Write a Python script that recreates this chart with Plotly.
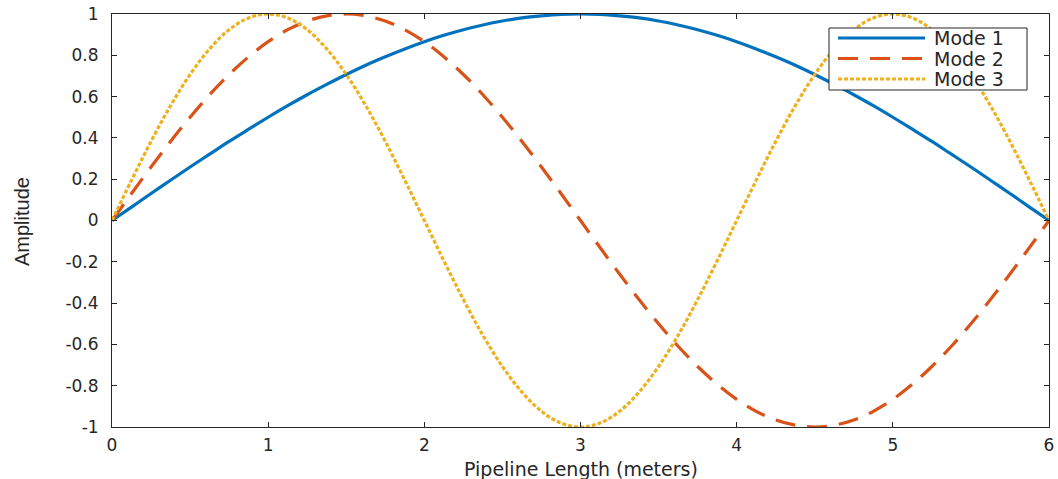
import plotly.graph_objects as go

x_vals = [0, 0.125, 0.25, 0.375, 0.5, 0.625, 0.75, 0.875, 1, 1.125, 1.25, 1.375, 1.5,
          1.625, 1.75, 1.875, 2, 2.125, 2.25, 2.375, 2.5, 2.625, 2.75, 2.875, 3,
          3.125, 3.25, 3.375, 3.5, 3.625, 3.75, 3.875, 4, 4.125, 4.25, 4.375, 4.5,
          4.625, 4.75, 4.875, 5, 5.125, 5.25, 5.375, 5.5, 5.625, 5.75, 5.875, 6]
mode1 = [0, 0.065, 0.131, 0.195, 0.259, 0.321, 0.383, 0.442, 0.500, 0.556, 0.609, 0.659, 0.707,
         0.752, 0.793, 0.831, 0.866, 0.897, 0.924, 0.947, 0.966, 0.981, 0.991, 0.998, 1.000,
         0.998, 0.991, 0.981, 0.966, 0.947, 0.924, 0.897, 0.866, 0.831, 0.793, 0.752, 0.707,
         0.659, 0.609, 0.556, 0.500, 0.442, 0.383, 0.321, 0.259, 0.195, 0.131, 0.065, 0]
mode2 = [0, 0.131, 0.259, 0.383, 0.500, 0.609, 0.707, 0.793, 0.866, 0.924, 0.966, 0.991, 1.000,
         0.991, 0.966, 0.924, 0.866, 0.793, 0.707, 0.609, 0.500, 0.383, 0.259, 0.131, 0,
         -0.131, -0.259, -0.383, -0.500, -0.609, -0.707, -0.793, -0.866, -0.924, -0.966, -0.991, -1.000,
         -0.991, -0.966, -0.924, -0.866, -0.793, -0.707, -0.609, -0.500, -0.383, -0.259, -0.131, 0]
mode3 = [0, 0.195, 0.383, 0.556, 0.707, 0.831, 0.924, 0.981, 1.000,
         0.981, 0.924, 0.831, 0.707, 0.556, 0.383, 0.195, 0,
         -0.195, -0.383, -0.556, -0.707, -0.831, -0.924, -0.981, -1.000,
         -0.981, -0.924, -0.831, -0.707, -0.556, -0.383, -0.195, 0,
         0.195, 0.383, 0.556, 0.707, 0.831, 0.924, 0.981, 1.000,
         0.981, 0.924, 0.831, 0.707, 0.556, 0.383, 0.195, 0]
series_names = ["Mode 1", "Mode 2", "Mode 3"]
x_ticks = [0, 1, 2, 3, 4, 5, 6]
y_ticks = [-1, -0.8, -0.6, -0.4, -0.2, 0, 0.2, 0.4, 0.6, 0.8, 1]
y_tick_labels = ["-1", "-0.8", "-0.6", "-0.4", "-0.2", "0", "0.2", "0.4", "0.6", "0.8", "1"]

colors = ["#0072BD", "#D95319", "#EDB120"]
dashes = ["solid", "20px,12px", "4px,2px"]
TXT = "#262626"
font = "DejaVu Sans, Verdana, sans-serif"

# plot-area geometry (px) used to place the legend/titles in paper coords
W, H = 1058, 479
L, R, T, B = 112, 9, 14, 52
PW, PH = W - L - R, H - T - B


def px(xp):
    return (xp - L) / PW


def py(yp):
    return 1 - (yp - T) / PH


fig = go.Figure()
for name, ys, c, d in zip(series_names, [mode1, mode2, mode3], colors, dashes):
    fig.add_trace(go.Scatter(
        x=x_vals, y=ys, mode="lines", name=name, showlegend=False,
        line=dict(color=c, width=3.2, dash=d, shape="spline", smoothing=1.0),
    ))

axis_common = dict(
    showgrid=False, zeroline=False, showline=True, linecolor=TXT, linewidth=1,
    mirror="ticks", ticks="inside", ticklen=5, tickcolor=TXT, automargin=False,
    tickfont=dict(family=font, size=17, color=TXT),
)
fig.update_xaxes(range=[0, 6], tickvals=x_ticks, ticklabelstandoff=3, **axis_common)
fig.update_yaxes(range=[-1, 1], tickvals=y_ticks, ticktext=y_tick_labels,
                 ticklabelstandoff=9, **axis_common)

shapes = []
annotations = []
# legend box
shapes.append(dict(type="rect", xref="paper", yref="paper",
                   x0=px(829), x1=px(1027), y0=py(90), y1=py(28),
                   line=dict(color=TXT, width=1), fillcolor="white", layer="above"))
for i, (name, c, d) in enumerate(zip(series_names, colors, dashes)):
    yc = 38 + 20.5 * i
    shapes.append(dict(type="line", xref="paper", yref="paper",
                       x0=px(838), x1=px(925), y0=py(yc), y1=py(yc),
                       line=dict(color=c, width=3.2, dash=d), layer="above"))
    annotations.append(dict(text=name, xref="paper", yref="paper", x=px(932), y=py(yc),
                            xanchor="left", yanchor="middle", showarrow=False,
                            font=dict(family=font, size=19, color=TXT)))

annotations.append(dict(text="Pipeline Length (meters)", xref="paper", yref="paper",
                        x=px(581), y=py(469), xanchor="center", yanchor="middle",
                        showarrow=False, font=dict(family=font, size=19, color=TXT)))
annotations.append(dict(text="Amplitude", xref="paper", yref="paper",
                        x=px(22), y=py(222), xanchor="center", yanchor="middle",
                        textangle=-90, showarrow=False,
                        font=dict(family="Liberation Sans Narrow, Liberation Sans, Arial, sans-serif",
                                  size=20, color=TXT)))

fig.update_layout(
    width=W, height=H,
    margin=dict(l=L, r=R, t=T, b=B),
    plot_bgcolor="white", paper_bgcolor="white",
    showlegend=False,
    shapes=shapes, annotations=annotations,
)

fig.write_html(
    "out.html",
    config={"displayModeBar": False},
    post_script="document.body.style.margin='0';document.body.style.overflow='hidden';",
)
